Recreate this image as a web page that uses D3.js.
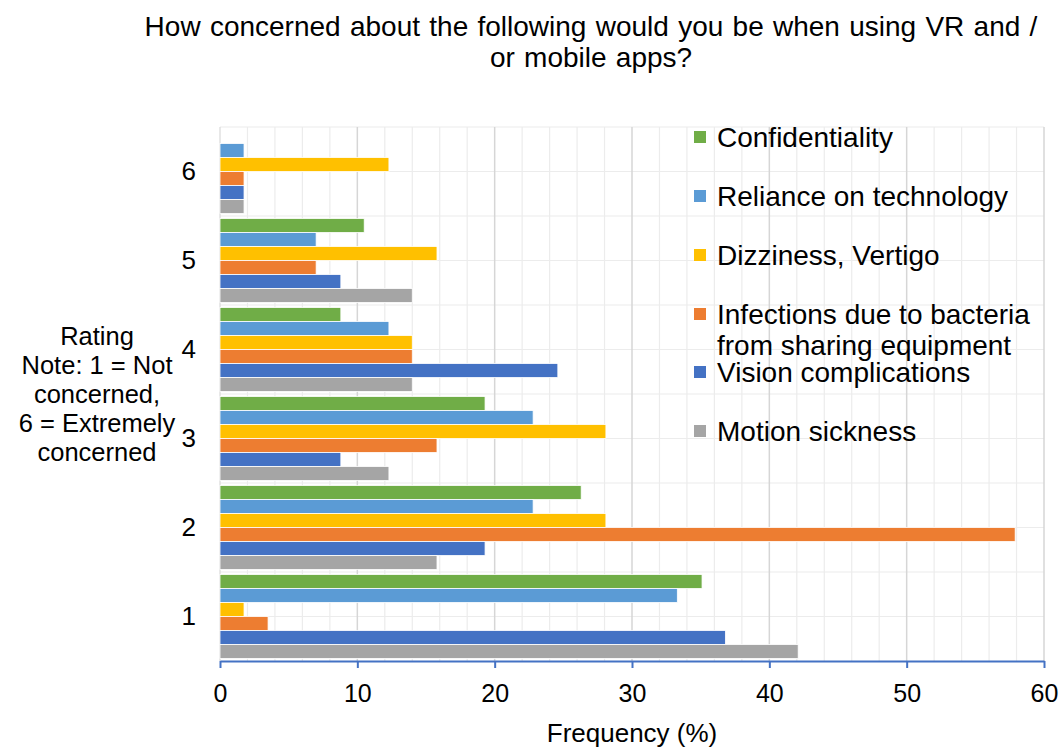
<!DOCTYPE html>
<html>
<head>
<meta charset="utf-8">
<script src="https://cdn.jsdelivr.net/npm/d3@7"></script>
<style>
  html, body { margin: 0; padding: 0; background: #fff; }
  svg { display: block; font-family: "Liberation Sans", Arial, sans-serif; }
</style>
</head>
<body>
<svg id="chart" width="1060" height="747"></svg>
<script>
// Ratings on the vertical axis (1 = not concerned, 6 = extremely concerned)
const ratings = ["1", "2", "3", "4", "5", "6"];

// Concern categories, in the order they stack inside each rating group (top to bottom)
const seriesNames = [
  "Confidentiality",
  "Reliance on technology",
  "Dizziness, Vertigo",
  "Infections due to bacteria from sharing equipment",
  "Vision complications",
  "Motion sickness"
];
const seriesColors = ["#70ad47", "#5b9bd5", "#ffc000", "#ed7d31", "#4472c4", "#a5a5a5"];

// Frequency (%) per rating 1..6 for each category
const confidentiality = [35.1, 26.3, 19.3, 8.8, 10.5, 0];
const relianceOnTech  = [33.3, 22.8, 22.8, 12.3, 7.0, 1.75];
const dizziness       = [1.75, 28.1, 28.1, 14.0, 15.8, 12.3];
const infections      = [3.5, 57.9, 15.8, 14.0, 7.0, 1.75];
const vision          = [36.8, 19.3, 8.8, 24.6, 8.8, 1.75];
const motionSickness  = [42.1, 15.8, 12.3, 14.0, 14.0, 1.75];

const xTicks = [0, 10, 20, 30, 40, 50, 60];

const titleLines = ["How concerned about the following would you be when using VR and /", "or mobile apps?"];
const yTitleLines = ["Rating", "Note: 1 = Not", "concerned,", "6 = Extremely", "concerned"];
const xTitle = "Frequency (%)";
const legendLines = [
  ["Confidentiality"],
  ["Reliance on technology"],
  ["Dizziness, Vertigo"],
  ["Infections due to bacteria", "from sharing equipment"],
  ["Vision complications"],
  ["Motion sickness"]
];

const seriesValues = [confidentiality, relianceOnTech, dizziness, infections, vision, motionSickness];

const svg = d3.select("#chart");
const plot = { left: 220, right: 1044, top: 127, bottom: 661 };

const x = d3.scaleLinear().domain([0, 60]).range([plot.left, plot.right]);
const y = d3.scaleBand().domain(ratings.slice().reverse())
  .range([plot.top, plot.bottom]).paddingInner(0.056).paddingOuter(0.028);
const ySub = d3.scaleBand().domain(d3.range(seriesNames.length)).range([0, y.bandwidth()]);

// Gridlines: minor every 2 units, major every 10
const grid = svg.append("g");
grid.selectAll("line.vminor").data(d3.range(0, 61, 2).filter(v => v % 10 !== 0))
  .join("line")
  .attr("x1", d => x(d)).attr("x2", d => x(d))
  .attr("y1", plot.top).attr("y2", plot.bottom)
  .attr("stroke", "#ececec").attr("stroke-width", 1.2);
// horizontal gridlines at category edges and midpoints
const hStep = (plot.bottom - plot.top) / (ratings.length * 2);
grid.selectAll("line.h").data(d3.range(0, ratings.length * 2))
  .join("line")
  .attr("x1", plot.left).attr("x2", plot.right)
  .attr("y1", d => plot.top + d * hStep).attr("y2", d => plot.top + d * hStep)
  .attr("stroke", "#ececec").attr("stroke-width", 1.2);
grid.selectAll("line.vmajor").data(xTicks.slice(1))
  .join("line")
  .attr("x1", d => x(d)).attr("x2", d => x(d))
  .attr("y1", plot.top).attr("y2", plot.bottom)
  .attr("stroke", "#d6d6d6").attr("stroke-width", 1.5);
// left edge of the plot area
grid.append("line")
  .attr("x1", plot.left).attr("x2", plot.left)
  .attr("y1", plot.top).attr("y2", plot.bottom)
  .attr("stroke", "#d9d9d9").attr("stroke-width", 1.2);

// Bars
const barData = [];
ratings.forEach((r, i) => {
  seriesValues.forEach((vals, s) => {
    barData.push({ rating: r, s, value: vals[i] });
  });
});
svg.append("g").selectAll("rect")
  .data(barData.filter(d => d.value > 0))
  .join("rect")
  .attr("x", x(0))
  .attr("y", d => y(d.rating) + ySub(d.s))
  .attr("width", d => x(d.value) - x(0))
  .attr("height", ySub.bandwidth())
  .attr("fill", d => seriesColors[d.s])
  .attr("stroke", "#ffffff").attr("stroke-width", 0.8);

// X axis
const xAxis = svg.append("g")
  .attr("transform", `translate(0,${plot.bottom})`)
  .call(d3.axisBottom(x).tickValues(xTicks).tickSize(7).tickPadding(16).tickSizeOuter(0));
xAxis.select(".domain").attr("stroke", "#4472c4").attr("stroke-width", 2.2);
xAxis.selectAll(".tick line").attr("stroke", "#4472c4").attr("stroke-width", 2);
xAxis.selectAll(".tick text")
  .attr("font-size", 25).attr("fill", "#000")
  .attr("font-family", "Liberation Sans, Arial, sans-serif");

// Y tick labels
svg.append("g").selectAll("text")
  .data(ratings)
  .join("text")
  .attr("x", 196)
  .attr("y", d => y(d) + y.bandwidth() / 2)
  .attr("dy", "0.34em")
  .attr("text-anchor", "end")
  .attr("font-size", 26)
  .text(d => d);

// Title
svg.append("g").selectAll("text")
  .data(titleLines)
  .join("text")
  .attr("x", 591)
  .attr("y", (d, i) => 36 + i * 31)
  .attr("text-anchor", "middle")
  .attr("font-size", 28)
  .attr("word-spacing", 1.5)
  .text(d => d);

// Y axis title
svg.append("g").selectAll("text")
  .data(yTitleLines)
  .join("text")
  .attr("x", 97)
  .attr("y", (d, i) => 345 + i * 29)
  .attr("text-anchor", "middle")
  .attr("font-size", 25.5)
  .text(d => d);

// X axis title
svg.append("text")
  .attr("x", 632).attr("y", 742)
  .attr("text-anchor", "middle")
  .attr("font-size", 26)
  .text(xTitle);

// Legend
const legendY = [137, 196, 255, 314, 372, 431];
const legend = svg.append("g");
legendLines.forEach((lines, i) => {
  legend.append("rect")
    .attr("x", 694).attr("y", legendY[i] - 6)
    .attr("width", 12).attr("height", 12)
    .attr("fill", seriesColors[i]);
  lines.forEach((t, j) => {
    legend.append("text")
      .attr("x", 717)
      .attr("y", legendY[i] + j * 31)
      .attr("dy", "0.34em")
      .attr("font-size", 28)
      .text(t);
  });
});
</script>
</body>
</html>
